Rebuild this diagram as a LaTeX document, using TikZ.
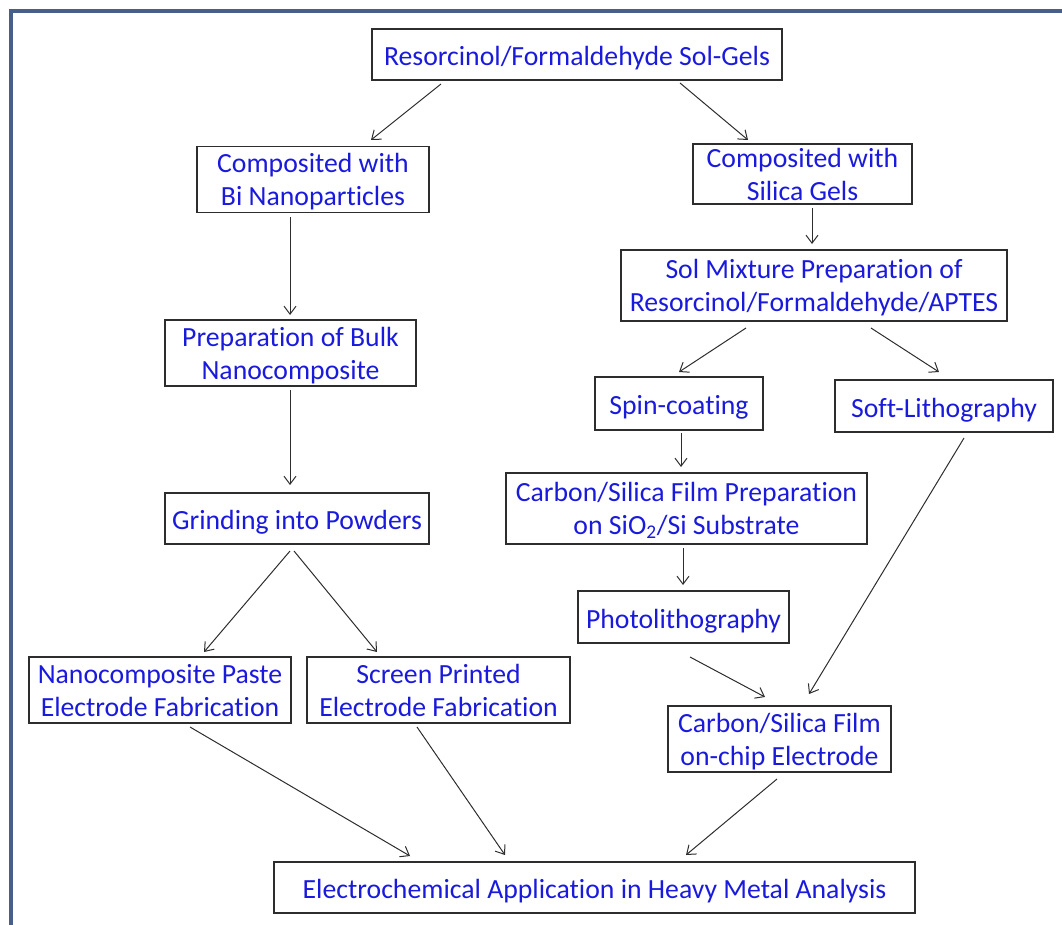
\documentclass[tikz,border=0pt]{standalone}
\usepackage{fontspec}
\setmainfont{Carlito}[Ligatures=NoCommon]
\usetikzlibrary{arrows.meta}
\definecolor{txtblue}{RGB}{26,26,220}
\definecolor{frame}{RGB}{70,96,138}
\definecolor{edge}{RGB}{45,45,45}
\newcommand{\twoln}[2]{\raisebox{-2.4pt}[\height][\depth]{\begin{tabular}{@{}c@{}}#1\\#2\end{tabular}}}
\begin{document}
\begin{tikzpicture}[x=0.75pt,y=-0.75pt,
  box/.style={draw=edge,line width=0.8pt,text=txtblue,align=center,inner sep=0pt,
    font=\fontsize{20.8}{24.75}\selectfont,
    execute at begin node={\rule{0pt}{20.3pt}}},
  dbl/.style={draw=edge,line width=0.8pt,text=txtblue,inner sep=0pt,
    font=\fontsize{20.8}{24.75}\selectfont},
  arr/.style={draw=edge,line width=0.75pt,-{Straight Barb[length=6pt,width=9pt]}}]
\useasboundingbox (0,0) rectangle (1062,924);
\begin{scope}
\clip (0,0) rectangle (1062,924);
\draw[frame,line width=3pt] (11,11) rectangle (1080,940);
\end{scope}
% boxes
\node[box,minimum width=307.5pt,minimum height=38.25pt] (top) at (577,54.5) {Resorcinol/Formaldehyde Sol-Gels};
\node[dbl,minimum width=174pt,minimum height=47.25pt] (bi) at (313,179.5) {\twoln{Composited with}{Bi Nanoparticles}};
\node[box,minimum width=164.25pt,minimum height=45pt] (sil) at (802.5,174) {Composited with\\Silica Gels};
\node[dbl,minimum width=289.5pt,minimum height=53.25pt] (mix) at (814,285.5) {\twoln{Sol Mixture Preparation of}{Resorcinol/Formaldehyde/APTES}};
\node[dbl,minimum width=188.25pt,minimum height=46.5pt] (bulk) at (290.5,353) {\twoln{Preparation of Bulk}{Nanocomposite}};
\node[box,minimum width=126pt,minimum height=39.75pt] (spin) at (679,403.5) {Spin-coating};
\node[box,minimum width=163.5pt,minimum height=39pt] (soft) at (944,406) {Soft-Lithography};
\node[box,minimum width=198pt,minimum height=38.25pt] (grind) at (297,518.5) {Grinding into Powders};
\node[dbl,minimum width=270.75pt,minimum height=53.25pt] (csf) at (686.5,508.5) {\twoln{Carbon/Silica Film Preparation}{on SiO\textsubscript{2}/Si Substrate}};
\node[box,minimum width=158.25pt,minimum height=39pt] (photo) at (683.5,617) {Photolithography};
\node[dbl,minimum width=196.5pt,minimum height=45pt] (paste) at (160,690) {\twoln{Nanocomposite Paste}{Electrode Fabrication}};
\node[dbl,minimum width=197.25pt,minimum height=45pt] (screen) at (438.5,690) {\twoln{Screen Printed}{Electrode Fabrication}};
\node[dbl,minimum width=167.25pt,minimum height=49.5pt] (chip) at (779.5,739) {\twoln{Carbon/Silica Film}{on-chip Electrode}};
\node[box,minimum width=480.75pt,minimum height=38.25pt] (app) at (594.5,887.5) {Electrochemical Application in Heavy Metal Analysis};
% arrow end points
\coordinate (a1s) at (441,84);  \coordinate (a1e) at (371,140);
\coordinate (a2s) at (680,83);  \coordinate (a2e) at (748,140);
\coordinate (a3s) at (290,217); \coordinate (a3e) at (290,315);
\coordinate (a4s) at (812,208); \coordinate (a4e) at (812,244);
\coordinate (a5s) at (290,390); \coordinate (a5e) at (290,485);
\coordinate (a6s) at (746,328); \coordinate (a6e) at (679,372);
\coordinate (a7s) at (871,328); \coordinate (a7e) at (939,372);
\coordinate (a8s) at (681,433); \coordinate (a8e) at (681,467);
\coordinate (a9s) at (290,551); \coordinate (a9e) at (204,652);
\coordinate (a10s) at (294,551); \coordinate (a10e) at (377,652);
\coordinate (a11s) at (683,548); \coordinate (a11e) at (683,585);
\coordinate (a12s) at (690,657); \coordinate (a12e) at (765,697);
\coordinate (a13s) at (964,438); \coordinate (a13e) at (809,694);
\coordinate (a14s) at (190,727); \coordinate (a14e) at (410,856);
\coordinate (a15s) at (417,727); \coordinate (a15e) at (505,855);
\coordinate (a16s) at (777,779); \coordinate (a16e) at (686,855);
\foreach \i in {1,...,16} {\draw[arr] (a\i s) -- (a\i e);}
\end{tikzpicture}
\end{document}
